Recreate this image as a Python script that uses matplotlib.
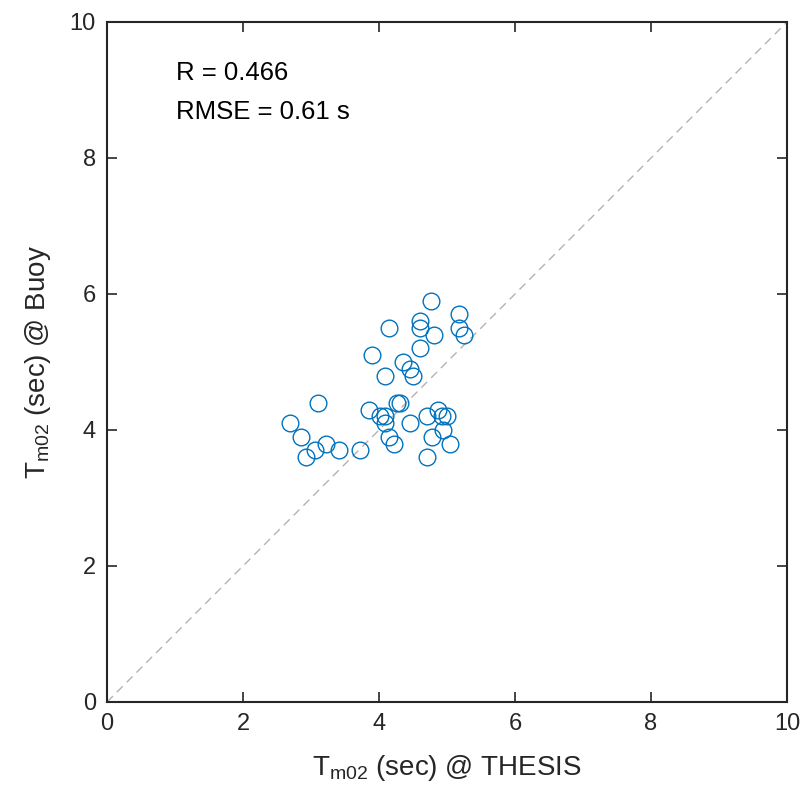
import matplotlib
matplotlib.use("Agg")
import matplotlib.pyplot as plt

plt.rcParams['font.family'] = ['Liberation Sans', 'DejaVu Sans']
plt.rcParams['mathtext.fontset'] = 'custom'
plt.rcParams['mathtext.rm'] = 'Liberation Sans'
plt.rcParams['mathtext.it'] = 'Liberation Sans'

thesis = [4.76, 5.18, 4.60, 4.60, 4.14, 5.18, 5.25, 4.81, 4.60, 3.90,
          4.36, 4.45, 4.50, 4.09, 3.10, 4.27, 4.31, 3.86, 4.01, 4.09,
          4.09, 4.14, 4.22, 4.45, 4.70, 4.87, 4.92, 5.00, 4.94, 4.78,
          5.05, 4.70, 2.69, 2.86, 2.93, 3.06, 3.22, 3.41, 3.72]
buoy = [5.9, 5.7, 5.6, 5.5, 5.5, 5.5, 5.4, 5.4, 5.2, 5.1,
        5.0, 4.9, 4.8, 4.8, 4.4, 4.4, 4.4, 4.3, 4.2, 4.2,
        4.1, 3.9, 3.8, 4.1, 4.2, 4.3, 4.2, 4.2, 4.0, 3.9,
        3.8, 3.6, 4.1, 3.9, 3.6, 3.7, 3.8, 3.7, 3.7]
ticks = [0, 2, 4, 6, 8, 10]
stats_text = ["R = 0.466", "RMSE = 0.61 s"]

dark = '#262626'
fig = plt.figure(figsize=(8.07, 7.96), dpi=100)
ax = fig.add_axes([107/807, 94/796, 680/807, 680/796])

ax.plot([0, 10], [0, 10], linestyle=(0, (6, 4)), color='#b3b3b3', linewidth=1.0)
ax.plot(thesis, buoy, linestyle='none', marker='o', markersize=12,
        markerfacecolor='none', markeredgecolor='#0072BD', markeredgewidth=1.0)

ax.set_xlim(0, 10)
ax.set_ylim(0, 10)
ax.set_xticks(ticks)
ax.set_yticks(ticks)
ax.set_xticklabels([str(t) for t in ticks])
ax.set_yticklabels([str(t) for t in ticks])
ax.tick_params(direction='in', length=7, width=1.2, colors=dark, labelsize=17,
               top=True, right=True, pad=8)
for s in ax.spines.values():
    s.set_linewidth(1.5)
    s.set_color(dark)

ax.set_xlabel(r'T$_{\mathrm{m02}}$ (sec) @ THESIS', fontsize=20, color=dark, labelpad=13)
ax.set_ylabel(r'T$_{\mathrm{m02}}$ (sec) @ Buoy', fontsize=20, color=dark, labelpad=12)

ax.text(1.01, 9.25, stats_text[0], fontsize=18.5, color='black', va='center', ha='left')
ax.text(1.01, 8.68, stats_text[1], fontsize=18.5, color='black', va='center', ha='left')

fig.savefig('out.png', dpi=100)
